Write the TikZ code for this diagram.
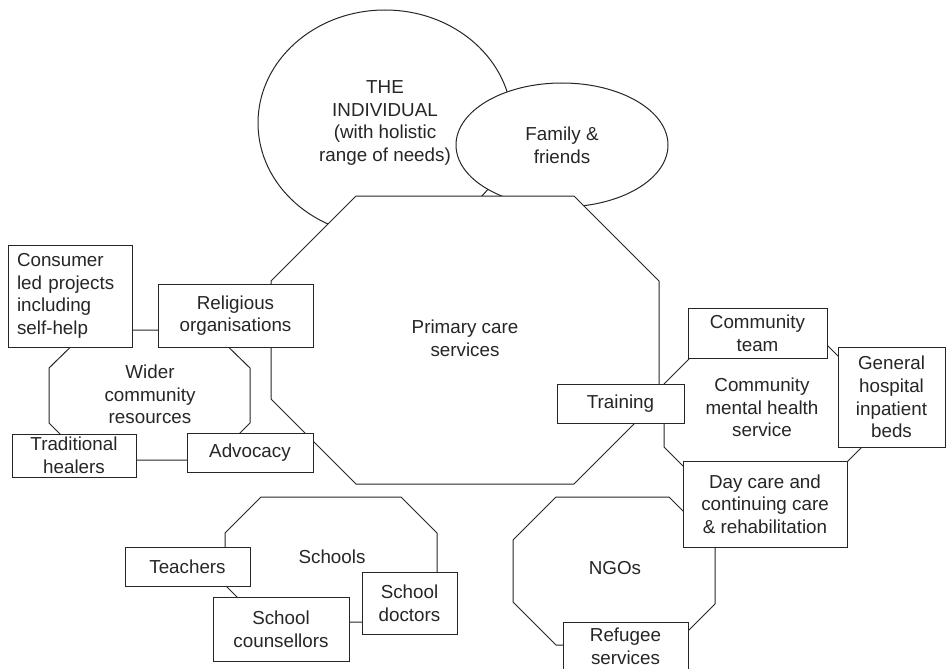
\documentclass[tikz,border=0pt]{standalone}
\usepackage{fontspec}
\setmainfont{Liberation Sans}
\usetikzlibrary{shapes.geometric}
\definecolor{ink}{HTML}{262626}
\begin{document}
\begin{tikzpicture}[x=1pt,y=-1pt,
  every node/.style={font=\fontsize{18.8pt}{22.7pt}\selectfont, text=ink, inner sep=0pt},
  box/.style={draw=ink, line width=1pt, fill=white, rectangle, align=center},
  blob/.style={draw=ink, line width=1pt, fill=white, ellipse, align=center},
  octo/.style={draw=ink, line width=1pt, fill=white, line join=miter},
  lbl/.style={align=center}]
\fill[white] (0,0) rectangle (946,669);
\useasboundingbox (0,0) rectangle (946,669);

% ellipses
\node[blob, minimum width=254pt, minimum height=226pt] (ind) at (385,123)
  {THE\\INDIVIDUAL\\(with holistic\\range of needs)};
\node[blob, minimum width=212pt, minimum height=124pt] (fam) at (562,145)
  {Family \&\\friends};

% primary care octagon
\path[octo] (356,196) -- (574,196) -- (659,281) -- (659,399) -- (574,484)
  -- (356,484) -- (271,399) -- (271,281) -- cycle;
\node[lbl] (pc) at (465,338) {Primary care\\services};

% wider community octagon
\path[octo] (88,330) -- (211,330) -- (250,368) -- (250,423) -- (213,460)
  -- (86,460) -- (49,423) -- (49,368) -- cycle;
\node[lbl] (wcr) at (150,394.5) {Wider\\community\\resources};

% community mental health octagon
\path[octo] (718,330) -- (812,330) -- (866,384) -- (866,443) -- (812,497)
  -- (714,497) -- (664,447) -- (664,384) -- cycle;
\node[lbl] (cmhs) at (762,407.5) {Community\\mental health\\service};

% NGO octagon
\path[octo] (556,497) -- (669,497) -- (715,543) -- (715,604) -- (674,645)
  -- (556,645) -- (513,602) -- (513,540) -- cycle;
\node[lbl] (ngo) at (615,568) {NGOs};

% schools octagon
\path[octo] (261,497) -- (401,497) -- (437,533) -- (437,585) -- (400,622)
  -- (262,622) -- (225,585) -- (225,533) -- cycle;
\node[lbl] (sch) at (332,557) {Schools};

% boxes
\node[box, minimum width=124pt, minimum height=102pt, align=left, text width=106pt]
  (cons) at (70,296) {Consumer\\led projects\\including\\self-help};
\node[box, minimum width=155pt, minimum height=63pt] (rel) at (235.5,315.5)
  {Religious\\organisations};
\node[box, minimum width=124pt, minimum height=43pt] (trad) at (74,455.5)
  {Traditional\\healers};
\node[box, minimum width=126pt, minimum height=39pt] (adv) at (250,452.5)
  {Advocacy};
\node[box, minimum width=127pt, minimum height=39pt] (train) at (620.5,403.5)
  {Training};
\node[box, minimum width=139pt, minimum height=50pt] (cteam) at (757.5,333)
  {Community\\team};
\node[box, minimum width=107pt, minimum height=100pt] (ghosp) at (891.5,397)
  {General\\hospital\\inpatient\\beds};
\node[box, minimum width=164pt, minimum height=86pt] (day) at (765,504)
  {Day care and\\continuing care\\\& rehabilitation};
\node[box, minimum width=125pt, minimum height=39pt] (teach) at (187.5,566.5)
  {Teachers};
\node[box, minimum width=136pt, minimum height=64pt] (couns) at (281,629)
  {School\\counsellors};
\node[box, minimum width=95pt, minimum height=62pt] (sdoc) at (409.5,603)
  {School\\doctors};
\node[box, minimum width=125pt, minimum height=48pt] (ref) at (625.5,646)
  {Refugee\\services};
\end{tikzpicture}
\end{document}
